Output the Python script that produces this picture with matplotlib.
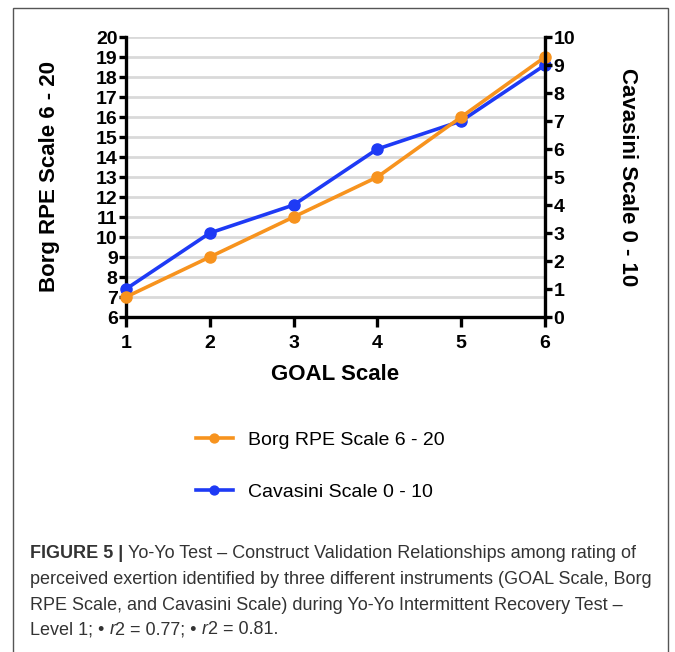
import matplotlib
matplotlib.use("Agg")
from matplotlib import pyplot as plt
from matplotlib.patches import Rectangle

# data
goal = [1, 2, 3, 4, 5, 6]
borg = [7, 9, 11, 13, 16, 19]
cavasini = [1, 3, 4, 6, 7, 9]

borgTicks = list(range(6, 21))
cavTicks = list(range(0, 11))

orange = '#F7931E'
blue = '#1E3AF5'
W, H = 675, 652

def px(x, y):
    # pixel coords (top-left origin) -> figure fraction
    return x / W, 1 - y / H

def main():
    plt.rcParams['font.family'] = ['Liberation Sans']
    fig = plt.figure(figsize=(6.75, 6.52), dpi=100)

    # frame around the whole figure panel
    fig.patches.append(Rectangle((13 / W, -0.05), (668 - 13) / W, 1.05 - 8 / H,
                                 transform=fig.transFigure, fill=False,
                                 edgecolor='#555555', linewidth=1.0))

    ax = fig.add_axes([126 / W, 1 - 317 / H, (545 - 126) / W, (317 - 37) / H])
    ax2 = ax.twinx()

    ax.set_xlim(1, 6)
    ax.set_ylim(6, 20)
    ax2.set_ylim(0, 10)

    ax.set_xticks(goal)
    ax.set_yticks(borgTicks)
    ax2.set_yticks(cavTicks)

    for y in borgTicks[1:]:
        ax.axhline(y, color='#d9d9d9', linewidth=2.0, zorder=0)

    # blue goes on right scale but is drawn in ax so orange sits on top
    ax.plot(goal, cavasini, '-o', color=blue, linewidth=2.6, markersize=8,
            transform=ax2.transData, clip_on=False, zorder=3, label='Cavasini Scale 0 - 10')
    ax.plot(goal, borg, '-o', color=orange, linewidth=2.6, markersize=8,
            clip_on=False, zorder=4, label='Borg RPE Scale 6 - 20')

    for a in (ax, ax2):
        for s in a.spines.values():
            s.set_linewidth(2.4)
        a.spines['top'].set_visible(False)
        a.tick_params(width=2.4, length=5, pad=1, labelsize=14)
        for lab in a.get_yticklabels() + a.get_xticklabels():
            lab.set_fontweight('bold')
    ax.spines['right'].set_visible(False)
    ax2.spines['left'].set_visible(False)
    ax2.spines['bottom'].set_visible(False)
    ax.tick_params(axis='x', length=7, pad=6)

    ax.set_xlabel('GOAL Scale', fontsize=16, fontweight='bold')
    ax.xaxis.set_label_coords(0.5, (317 - 375) / 280)
    ax.xaxis.label.set_va('center')
    ax.set_ylabel('Borg RPE Scale 6 - 20', fontsize=16, fontweight='bold')
    ax.yaxis.set_label_coords((50 - 126) / 419, 0.5)
    ax.yaxis.label.set_va('center')
    ax2.set_ylabel('Cavasini Scale 0 - 10', fontsize=16, fontweight='bold', rotation=270)
    ax2.yaxis.set_label_coords((627 - 126) / 419, 0.5)
    ax2.yaxis.label.set_va('center')

    handles, labels = ax.get_legend_handles_labels()
    fig.legend(handles[::-1], labels[::-1], loc='center left',
               bbox_to_anchor=px(196, 466), frameon=False, fontsize=14,
               handlelength=1.9, handletextpad=0.8, labelspacing=1.75,
               borderpad=0, borderaxespad=0, markerscale=0.8)

    # caption, built piece by piece for the bold / italic parts
    capColor = '#333333'
    lines = [
        [('FIGURE 5 | ', 'bold', 'normal'),
         ('Yo-Yo Test \u2013 Construct Validation Relationships among rating of', 'normal', 'normal')],
        [('perceived exertion identified by three different instruments (GOAL Scale, Borg', 'normal', 'normal')],
        [('RPE Scale, and Cavasini Scale) during Yo-Yo Intermittent Recovery Test \u2013', 'normal', 'normal')],
        [('Level 1; \u2022 ', 'normal', 'normal'), ('r', 'normal', 'italic'),
         ('2 = 0.77; \u2022 ', 'normal', 'normal'), ('r', 'normal', 'italic'),
         ('2 = 0.81.', 'normal', 'normal')],
    ]
    lineY = [553, 580, 605, 630]
    renderer = fig.canvas.get_renderer()
    for parts, yy in zip(lines, lineY):
        x = 30
        for txt, wt, st in parts:
            t = fig.text(*px(x, yy), txt, fontsize=13, fontweight=wt, fontstyle=st,
                         color=capColor, ha='left', va='center')
            bb = t.get_window_extent(renderer)
            x += bb.width

    fig.savefig('out.png', dpi=100)

if __name__ == "__main__":
    main()
